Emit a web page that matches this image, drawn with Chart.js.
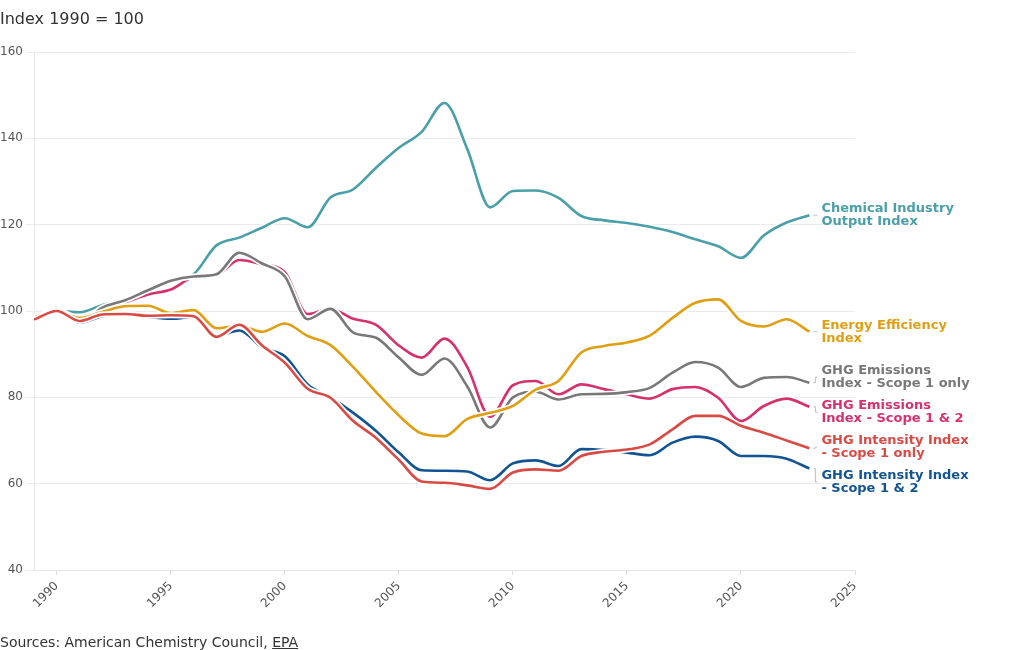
<!DOCTYPE html>
<html><head><meta charset="utf-8">
<script src="https://cdn.jsdelivr.net/npm/chart.js@4.4.0/dist/chart.umd.min.js"></script>
<style>
html,body{margin:0;padding:0;background:#fff;}
#wrap{position:relative;width:1020px;height:650px;overflow:hidden;}
canvas{position:absolute;left:0;top:0;}
#title{position:absolute;left:0;top:9px;font:16px "DejaVu Sans";color:#333;white-space:nowrap;}
#src{position:absolute;left:0;top:634px;font:14px "DejaVu Sans";color:#333;white-space:nowrap;line-height:16px;}
#src u{text-decoration:underline;}
</style></head><body>
<div id="wrap">
<canvas id="c" width="1020" height="650"></canvas>
<div id="title">Index 1990 = 100</div>
<div id="src">Sources: American Chemistry Council, <u>EPA</u></div>
</div>
<script>
const years = [1989,1990,1991,1992,1993,1994,1995,1996,1997,1998,1999,2000,2001,2002,2003,2004,2005,2006,2007,2008,2009,2010,2011,2012,2013,2014,2015,2016,2017,2018,2019,2020,2021,2022,2023];
const outputIndex = [97.8,100,99.7,101.4,102.7,105,106.7,108.5,115.2,117,119.3,121.5,119.4,126.3,128.2,133.2,137.8,141.5,148.2,137.5,124,127.8,127.9,126.2,122,121,120.4,119.5,118.3,116.6,115,112.3,117.5,120.5,122.2];
const energyEff = [98.5,100,98.4,99.8,101.1,101.2,99.5,100.2,96,96.6,95.2,97.1,94.2,92.1,87,81.2,75.8,71.6,71,75,76.4,78,81.8,83.8,90.4,91.9,92.7,94.3,98.4,101.9,102.7,97.7,96.4,98.1,95.2];
const ghgEmisS1 = [97.8,100,97.3,100.8,102.5,104.8,107,108,108.5,113.5,111,108,98.1,100.5,95,93.8,89.2,85.2,89,82.5,73,80,81.3,79.5,80.7,80.8,81.2,82.2,85.7,88.2,86.9,82.4,84.5,84.7,83.4];
const ghgEmisS12 = [97.8,100,97.5,100.5,102,103.8,105,107.8,108.3,111.8,110.8,109,99.3,100.5,98.2,96.8,92,89.2,93.6,87,75.5,82.8,83.8,80.7,83,81.9,80.7,79.7,81.9,82.4,79.9,74.5,78,79.7,77.8];
const ghgIntS1 = [98,100,97.7,99.2,99.3,98.9,99,98.8,94,96.8,92,88,82,79.9,74.5,70.6,65.5,60.5,60.2,59.6,58.8,62.6,63.3,63,66.4,67.4,67.9,69.1,72.6,75.7,75.7,73.4,71.8,70,68.2];
const ghgIntS12 = [98,100,97.3,98.8,99.2,98.6,98.2,98.6,94.2,95.5,91.6,89.5,83,80,76.4,72.2,67.2,63.1,63,62.8,60.8,64.7,65.4,64.1,68,67.8,67.2,66.6,69.5,70.9,69.9,66.4,66.4,65.8,63.5];
const xTickValues = [1990,1995,2000,2005,2010,2015,2020,2025];
const yTickValues = [40,60,80,100,120,140,160];

const seriesLabels = [
  ["GHG Intensity Index","- Scope 1 only"],
  ["Energy Efficiency","Index"],
  ["GHG Intensity Index","- Scope 1 & 2"],
  ["GHG Emissions","Index - Scope 1 only"],
  ["GHG Emissions","Index - Scope 1 & 2"],
  ["Chemical Industry","Output Index"]
];
const seriesValues = [ghgIntS1, energyEff, ghgIntS12, ghgEmisS1, ghgEmisS12, outputIndex];
const seriesColors = ['#DA4A44','#E09F12','#125493','#787878','#D6306F','#4A9FA9'];

const datasets = seriesValues.map((vals,i)=>({
  label: seriesLabels[i].join(' '),
  data: vals.map((v,j)=>({x:years[j], y:v})),
  borderColor: seriesColors[i],
  backgroundColor: seriesColors[i],
  borderWidth: 2.6,
  pointRadius: 0,
  cubicInterpolationMode: 'monotone',
  fill: false
}));

const halo = {
  id:'halo',
  beforeDatasetDraw(chart,args){
    const el = args.meta.dataset;
    if(!el || !el.points || !el.points.length) return;
    const ctx = chart.ctx;
    try{
      if (el.updateControlPoints) el.updateControlPoints(chart.chartArea,'x');
      ctx.save();
      ctx.beginPath();
      el.path(ctx);
      ctx.lineWidth = 6;
      ctx.strokeStyle = '#ffffff';
      ctx.lineJoin = 'round';
      ctx.lineCap = 'round';
      ctx.stroke();
      ctx.restore();
    }catch(e){ try{ctx.restore();}catch(_){} }
  }
};

const endLabels = {
  id:'endLabels',
  afterDatasetsDraw(chart){
    const ctx = chart.ctx;
    const items = chart.data.datasets.map((ds,i)=>{
      const meta = chart.getDatasetMeta(i);
      const pt = meta.data[meta.data.length-1];
      return {i, px:pt.x, py:pt.y, c:pt.y};
    }).sort((a,b)=>a.py-b.py);
    const gap = 35;
    let groups = items.map(it=>({members:[it]}));
    function place(g){
      const n = g.members.length;
      const mean = g.members.reduce((s,m)=>s+m.py,0)/n;
      const shift = n > 1 ? 3 : 0;
      g.start = mean - gap*(n-1)/2 + shift;
      g.end = g.start + gap*(n-1);
    }
    groups.forEach(place);
    let changed = true;
    while(changed){
      changed = false;
      for(let k=0;k<groups.length-1;k++){
        if(groups[k].end + gap > groups[k+1].start){
          groups[k].members = groups[k].members.concat(groups[k+1].members);
          groups.splice(k+1,1);
          place(groups[k]);
          changed = true; break;
        }
      }
    }
    groups.forEach(g=>g.members.forEach((m,j)=>{ m.c = g.start + gap*j; }));
    ctx.save();
    items.forEach(it=>{
      const color = seriesColors[it.i];
      const lines = seriesLabels[it.i];
      const tx = it.px + 12;
      ctx.strokeStyle = '#bdbdbd';
      ctx.lineWidth = 1;
      ctx.beginPath();
      ctx.moveTo(it.px+4, it.py);
      ctx.lineTo(it.px+6, it.py);
      ctx.lineTo(it.px+6, it.c);
      ctx.lineTo(it.px+8, it.c);
      ctx.stroke();
      ctx.fillStyle = color;
      ctx.font = 'bold 13px "DejaVu Sans"';
      ctx.textAlign = 'left';
      ctx.textBaseline = 'middle';
      ctx.fillText(lines[0], tx, it.c - 6.5);
      ctx.fillText(lines[1], tx, it.c + 6.5);
    });
    ctx.restore();
  }
};

new Chart(document.getElementById('c'), {
  type:'line',
  data:{datasets},
  options:{
    responsive:false,
    animation:false,
    layout:{padding:{left:0,right:165,top:52,bottom:0}},
    plugins:{legend:{display:false},tooltip:{enabled:false},title:{display:false}},
    scales:{
      x:{
        type:'linear', min:1989, max:2025,
        afterBuildTicks(scale){ scale.ticks = xTickValues.map(v=>({value:v})); },
        afterFit(scale){ scale.height = 80; },
        ticks:{ minRotation:45, maxRotation:45, color:'#555', font:{family:'DejaVu Sans',size:12}, padding:4,
          callback:(v)=>String(v) },
        grid:{ drawOnChartArea:false, tickLength:5, color:'#dddddd' },
        border:{ color:'#e6e6e6' }
      },
      y:{
        min:40, max:160,
        afterBuildTicks(scale){ scale.ticks = yTickValues.map(v=>({value:v})); },
        afterFit(scale){ scale.width = 34; },
        ticks:{ color:'#555', font:{family:'DejaVu Sans',size:12}, padding:3 },
        grid:{ color:'#ebebeb', tickLength:8 },
        border:{ color:'#e6e6e6' }
      }
    }
  },
  plugins:[halo, endLabels]
});
</script>
</body></html>
